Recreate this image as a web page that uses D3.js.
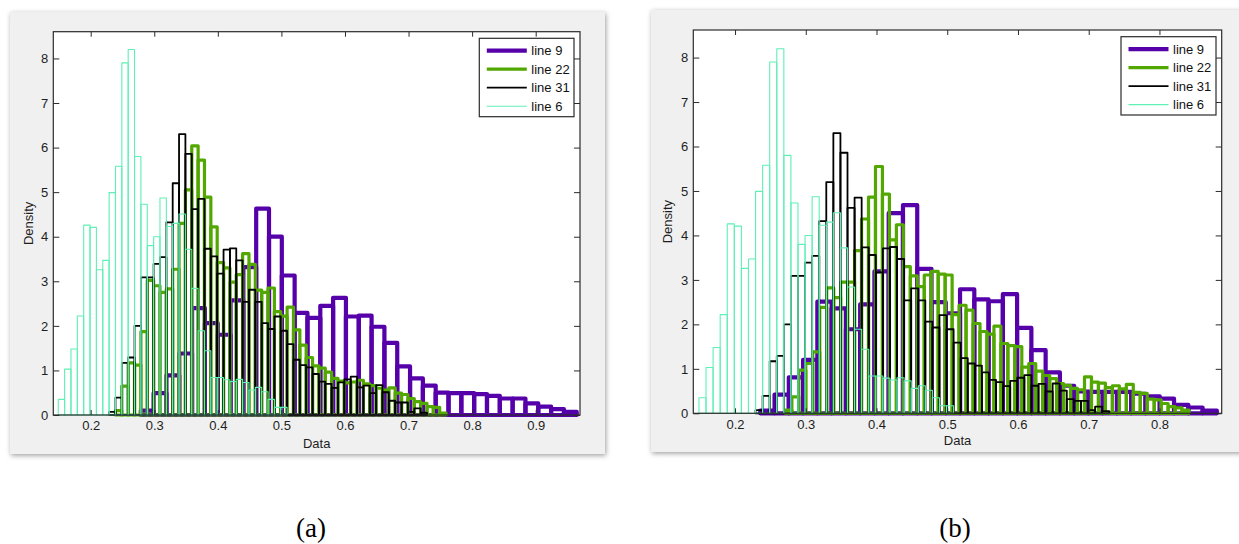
<!DOCTYPE html>
<html>
<head>
<meta charset="utf-8">
<script src="https://cdn.jsdelivr.net/npm/d3@7"></script>
<style>
  html, body { margin: 0; padding: 0; background: #ffffff; }
  svg { display: block; }
</style>
</head>
<body>
<svg id="fig" width="1239" height="544"></svg>
<script>
// ---------------- data ----------------
const yTicks = [0, 1, 2, 3, 4, 5, 6, 7, 8];
const xTicksA = [0.2, 0.3, 0.4, 0.5, 0.6, 0.7, 0.8, 0.9];
const xTicksB = [0.2, 0.3, 0.4, 0.5, 0.6, 0.7, 0.8];
const seriesNames = ["line 9", "line 22", "line 31", "line 6"];

// line 6: density per bin, bins of width 0.01 starting at 0.149 (same in both figures)
const line6Start = 0.149, line6Width = 0.01;
const line6 = [0.35, 1.03, 1.48, 2.22, 4.26, 4.21, 3.26, 3.47, 4.99, 5.58, 7.90, 8.20,
  5.80, 4.73, 3.80, 4.00, 4.87, 4.23, 4.30, 4.51, 3.72, 2.84, 1.89, 1.44, 0.84, 0.84,
  0.79, 0.75, 0.80, 0.73, 0.56, 0.62, 0.52, 0.35, 0.17, 0.17];

// line 31: bins of width 0.01 starting at 0.229 (same in both figures)
const line31Start = 0.229, line31Width = 0.01;
const line31 = [0.07, 0.39, 1.17, 1.29, 2.00, 3.09, 3.09, 3.39, 3.54, 4.32, 5.20, 6.30,
  5.86, 4.62, 4.85, 3.73, 3.56, 3.17, 3.71, 3.74, 3.47, 2.54, 2.81, 2.54, 2.06, 1.93,
  2.21, 1.89, 1.59, 1.24, 1.12, 1.07, 0.92, 0.75, 0.70, 0.61, 0.73, 0.80, 0.86, 0.62,
  0.66, 0.49, 0.67, 0.51, 0.32, 0.28, 0.28, 0.07, 0.15, 0.05];

// figure (a)
const line22AStart = 0.239, line22AWidth = 0.01;
const line22A = [0.10, 0.65, 1.17, 1.12, 1.87, 3.02, 2.90, 2.75, 2.83, 3.27, 4.30, 5.05,
  6.04, 5.72, 4.89, 4.22, 3.42, 3.30, 2.98, 3.15, 3.62, 3.38, 2.80, 2.75, 2.85, 2.32,
  2.22, 2.42, 1.91, 1.57, 1.29, 1.10, 1.05, 0.96, 0.82, 0.76, 0.72, 0.74, 0.78, 0.70,
  0.66, 0.60, 0.56, 0.61, 0.49, 0.46, 0.37, 0.30, 0.26, 0.19, 0.17, 0.04];
const line9AStart = 0.2788, line9AWidth = 0.02017;
const line9A = [0.10, 0.49, 0.89, 1.38, 2.40, 2.06, 1.80, 2.57, 3.32, 4.63, 4.00, 3.13,
  2.29, 2.18, 2.45, 2.63, 2.21, 2.23, 1.98, 1.62, 1.09, 0.82, 0.66, 0.50, 0.49, 0.49,
  0.47, 0.43, 0.37, 0.37, 0.26, 0.19, 0.13, 0.07];

// figure (b)
const line22BStart = 0.2705, line22BWidth = 0.00985;
const line22B = [0.07, 0.37, 0.97, 1.12, 1.38, 2.38, 2.82, 2.60, 2.95, 2.95, 3.66, 4.37,
  4.86, 5.55, 4.93, 3.90, 4.24, 3.30, 3.09, 2.85, 3.11, 3.19, 3.13, 3.11, 2.22, 2.43,
  2.32, 2.02, 1.84, 1.78, 1.96, 1.57, 1.52, 1.50, 1.04, 1.12, 0.95, 0.85, 0.78, 0.67,
  0.63, 0.56, 0.53, 0.82, 0.70, 0.68, 0.58, 0.62, 0.55, 0.65, 0.47, 0.45, 0.32, 0.30,
  0.22, 0.15, 0.12, 0.07];
const line9BStart = 0.2357, line9BWidth = 0.02017;
const line9B = [0.06, 0.42, 0.81, 1.20, 2.51, 2.36, 1.89, 2.45, 3.19, 4.50, 4.68, 3.25,
  2.50, 2.25, 2.79, 2.56, 2.52, 2.68, 1.92, 1.42, 0.92, 0.62, 0.49, 0.48, 0.48, 0.48,
  0.44, 0.38, 0.33, 0.19, 0.13, 0.06];

// ---------------- styles ----------------
const styles = {
  "line 9":  { color: "#5600aa", width: 4.2 },
  "line 22": { color: "#52a800", width: 3.2 },
  "line 31": { color: "#000000", width: 1.8 },
  "line 6":  { color: "#5ff0b4", width: 1.1 }
};
const FONT = "'Liberation Sans', Arial, sans-serif";

const svg = d3.select("#fig");
const defs = svg.append("defs");
const flt = defs.append("filter").attr("id", "panelShadow")
  .attr("x", "-5%").attr("y", "-5%").attr("width", "110%").attr("height", "110%");
flt.append("feDropShadow").attr("dx", 1).attr("dy", 1.5).attr("stdDeviation", 2.5)
  .attr("flood-color", "#000").attr("flood-opacity", 0.38);

function drawFigure(cfg) {
  const g = svg.append("g");

  // window background
  g.append("rect")
    .attr("x", cfg.frame.x).attr("y", cfg.frame.y)
    .attr("width", cfg.frame.w).attr("height", cfg.frame.h)
    .attr("fill", "#f0f0f0").attr("filter", "url(#panelShadow)");

  const p = cfg.plot;
  const x = d3.scaleLinear().domain(cfg.xDomain).range([p.left, p.right]);
  const y = d3.scaleLinear().domain([0, cfg.yMax]).range([p.bottom, p.top]);

  g.append("rect")
    .attr("x", p.left).attr("y", p.top)
    .attr("width", p.right - p.left).attr("height", p.bottom - p.top)
    .attr("fill", "#ffffff");

  // histogram bars, drawn as outlined rectangles
  cfg.series.forEach(s => {
    const st = styles[s.name];
    g.append("g").selectAll("rect")
      .data(s.values)
      .join("rect")
      .attr("x", (d, i) => x(s.start + i * s.width))
      .attr("width", (d, i) => x(s.start + (i + 1) * s.width) - x(s.start + i * s.width))
      .attr("y", d => y(d))
      .attr("height", d => y(0) - y(d))
      .attr("fill", "none")
      .attr("stroke", st.color)
      .attr("stroke-width", st.width)
      .attr("stroke-linejoin", "round");
  });

  // axes (ticks point inward on all four sides)
  const axisColor = "#2b2b2b";
  const fmtX = d3.format(".1f");
  const bottom = g.append("g").attr("transform", `translate(0,${p.bottom})`)
    .call(d3.axisBottom(x).tickValues(cfg.xTicks).tickFormat(fmtX)
      .tickSizeInner(-5).tickSizeOuter(0).tickPadding(6));
  const top = g.append("g").attr("transform", `translate(0,${p.top})`)
    .call(d3.axisTop(x).tickValues(cfg.xTicks).tickFormat("")
      .tickSizeInner(-5).tickSizeOuter(0));
  const left = g.append("g").attr("transform", `translate(${p.left},0)`)
    .call(d3.axisLeft(y).tickValues(yTicks).tickFormat(d3.format("d"))
      .tickSizeInner(-6).tickSizeOuter(0).tickPadding(5));
  const right = g.append("g").attr("transform", `translate(${p.right},0)`)
    .call(d3.axisRight(y).tickValues(yTicks).tickFormat("")
      .tickSizeInner(-6).tickSizeOuter(0));
  [bottom, top, left, right].forEach(a => {
    a.select(".domain").remove();
    a.selectAll(".tick line").attr("stroke", axisColor).attr("stroke-width", 1);
    a.selectAll("text").attr("fill", "#1e1e1e").style("font-family", FONT).style("font-size", "13px");
  });
  g.append("rect")
    .attr("x", p.left).attr("y", p.top)
    .attr("width", p.right - p.left).attr("height", p.bottom - p.top)
    .attr("fill", "none").attr("stroke", axisColor).attr("stroke-width", 1.2);

  // axis titles
  g.append("text")
    .attr("x", (p.left + p.right) / 2).attr("y", cfg.xTitleY)
    .attr("text-anchor", "middle")
    .style("font-family", FONT).style("font-size", "13px").attr("fill", "#1e1e1e")
    .text("Data");
  g.append("text")
    .attr("transform", `translate(${cfg.yTitleX},${(p.top + p.bottom) / 2}) rotate(-90)`)
    .attr("text-anchor", "middle").attr("dy", "0.35em")
    .style("font-family", FONT).style("font-size", "13px").attr("fill", "#1e1e1e")
    .text("Density");

  // legend
  const L = cfg.legend;
  const lg = g.append("g");
  lg.append("rect")
    .attr("x", L.x).attr("y", L.y).attr("width", L.w).attr("height", L.h)
    .attr("fill", "#ffffff").attr("stroke", axisColor).attr("stroke-width", 1.2);
  seriesNames.forEach((name, i) => {
    const cy = L.y + 12.4 + i * 18.5;
    lg.append("line")
      .attr("x1", L.x + 7.5).attr("x2", L.x + 47.5)
      .attr("y1", cy).attr("y2", cy)
      .attr("stroke", styles[name].color).attr("stroke-width", styles[name].width);
    lg.append("text")
      .attr("x", L.x + 52).attr("y", cy).attr("dy", "0.35em")
      .style("font-family", FONT).style("font-size", "13px").attr("fill", "#111")
      .text(name);
  });

  // caption
  g.append("text")
    .attr("x", cfg.caption.x).attr("y", cfg.caption.y)
    .attr("text-anchor", "middle")
    .style("font-family", "'Liberation Serif', 'Times New Roman', serif")
    .style("font-size", "27px").attr("fill", "#000")
    .text(cfg.caption.text);
}

drawFigure({
  frame: { x: 10, y: 12, w: 595, h: 442 },
  plot: { left: 53.3, right: 580, top: 31.7, bottom: 415 },
  xDomain: [0.1412, 0.9697],
  yMax: 8.6,
  xTicks: xTicksA,
  xTitleY: 447.5,
  yTitleX: 28,
  legend: { x: 479.3, y: 38.3, w: 94.7, h: 78.4 },
  caption: { x: 311, y: 537, text: "(a)" },
  series: [
    { name: "line 9",  start: line9AStart,  width: line9AWidth,  values: line9A },
    { name: "line 22", start: line22AStart, width: line22AWidth, values: line22A },
    { name: "line 31", start: line31Start,  width: line31Width,  values: line31 },
    { name: "line 6",  start: line6Start,   width: line6Width,   values: line6 }
  ]
});

drawFigure({
  frame: { x: 651, y: 10, w: 600, h: 442 },
  plot: { left: 693.3, right: 1221.7, top: 30, bottom: 413.3 },
  xDomain: [0.141, 0.888],
  yMax: 8.62,
  xTicks: xTicksB,
  xTitleY: 445,
  yTitleX: 667.5,
  legend: { x: 1121, y: 36.7, w: 95, h: 78.3 },
  caption: { x: 955, y: 537, text: "(b)" },
  series: [
    { name: "line 9",  start: line9BStart,  width: line9BWidth,  values: line9B },
    { name: "line 22", start: line22BStart, width: line22BWidth, values: line22B },
    { name: "line 31", start: line31Start,  width: line31Width,  values: line31 },
    { name: "line 6",  start: line6Start,   width: line6Width,   values: line6 }
  ]
});
</script>
</body>
</html>
